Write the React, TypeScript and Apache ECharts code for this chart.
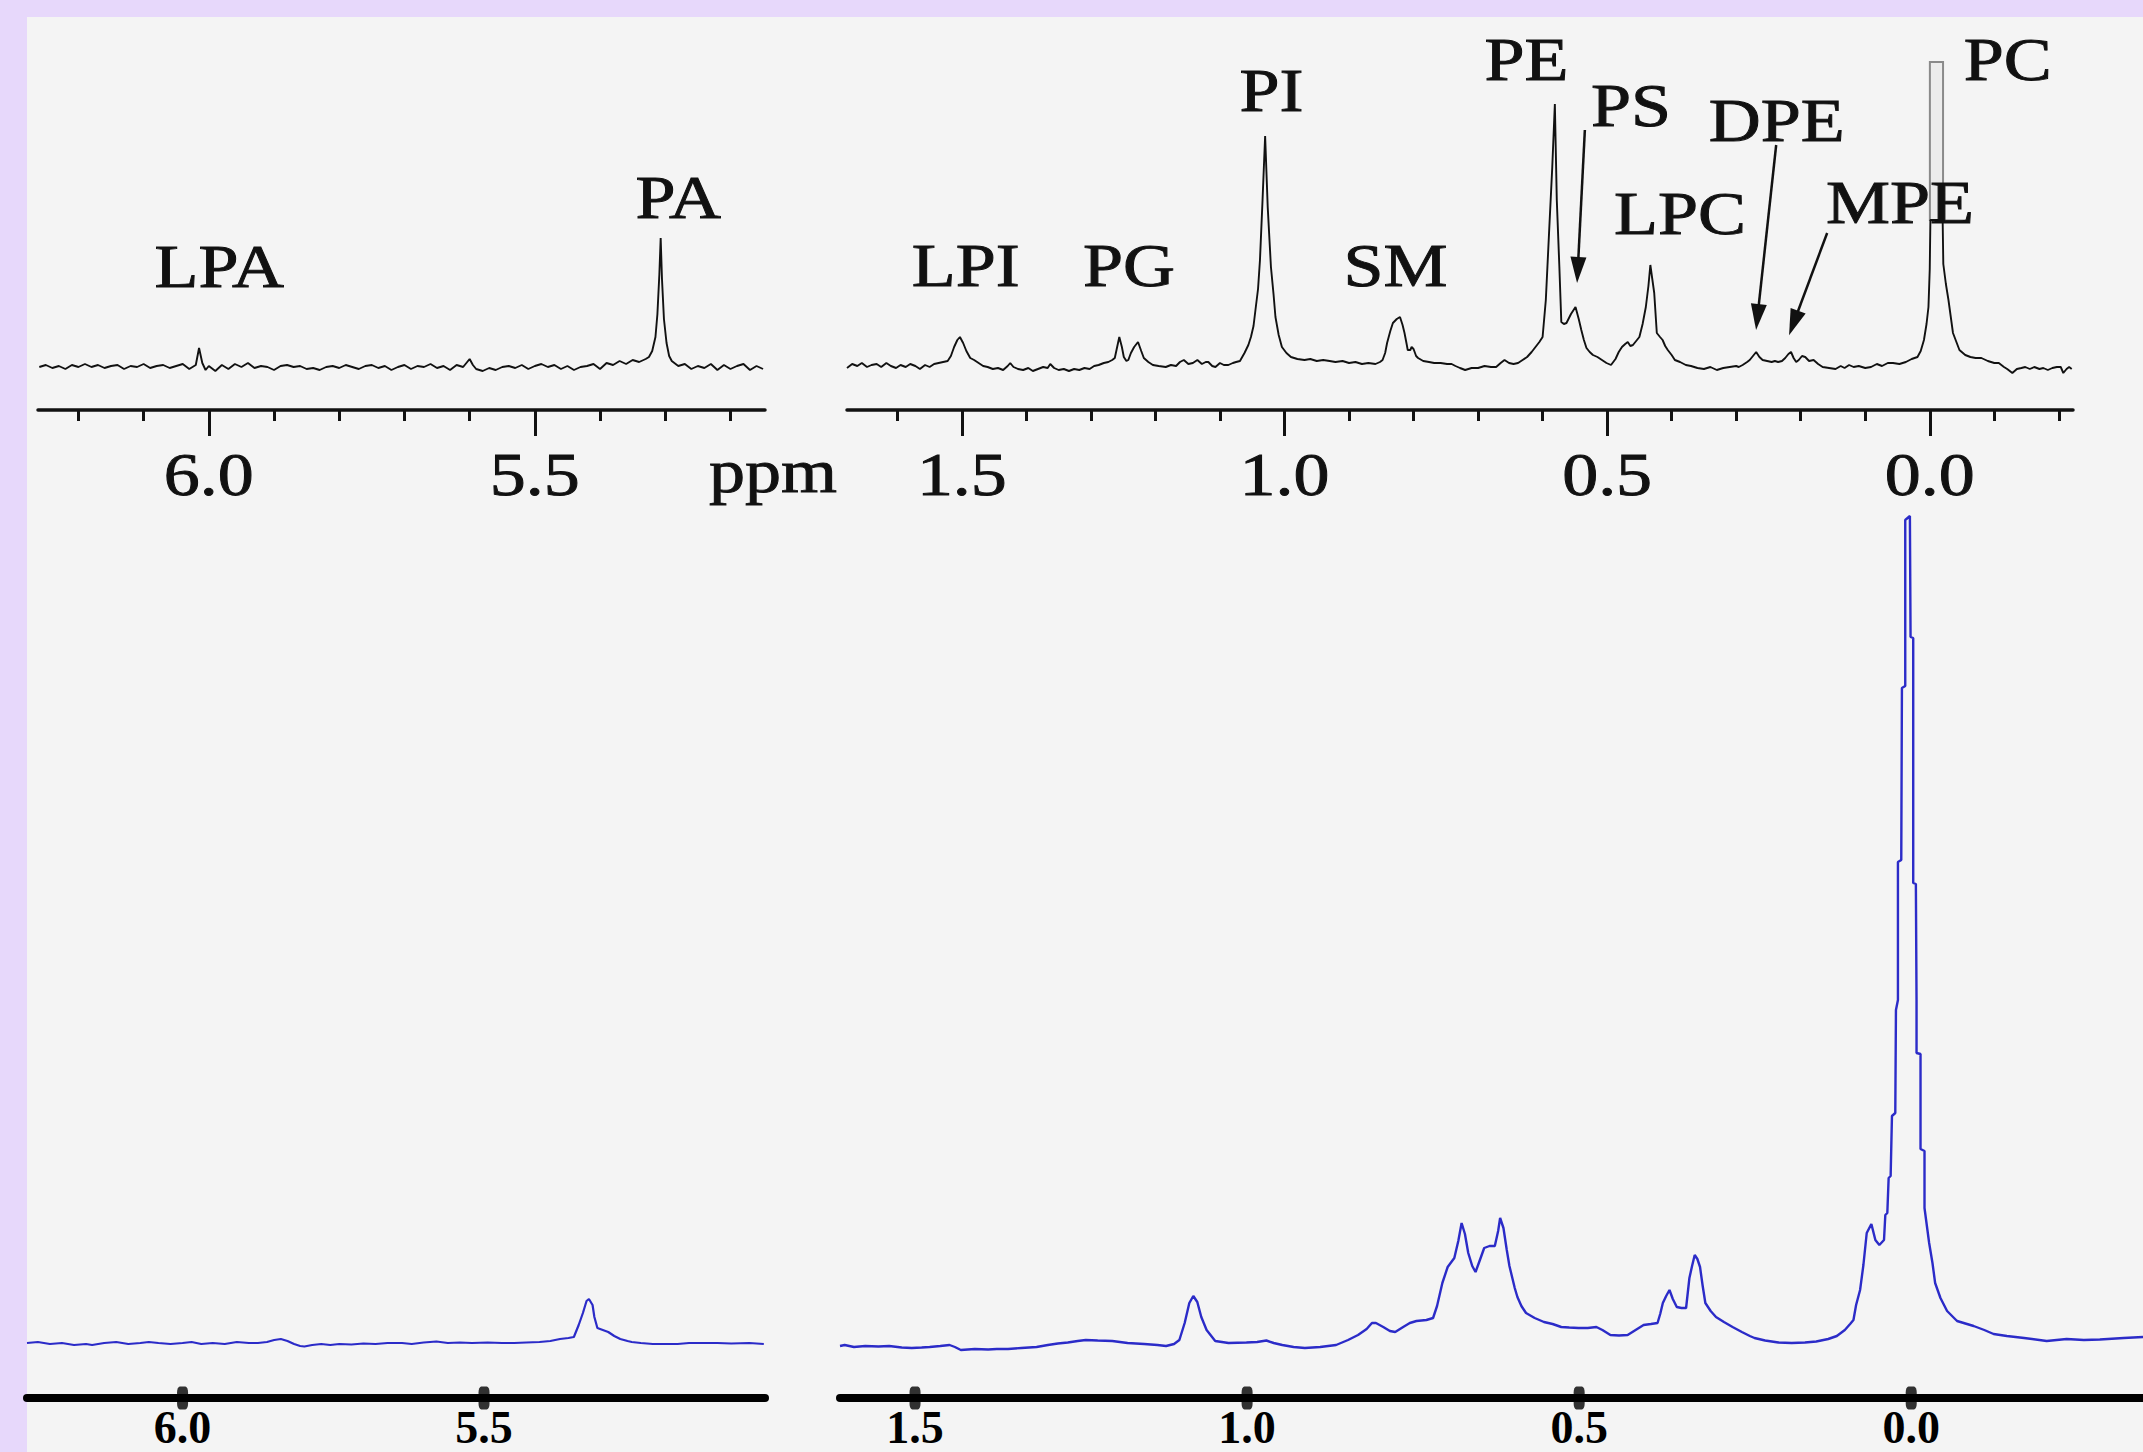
import React, { useEffect, useRef } from "react";
import * as echarts from "echarts";

// ---------- data (ppm, intensity) ----------
const TOP_LEFT_SPECTRUM: [number, number][] = [
  [6.26,4.2],[6.25,4.4],[6.24,4.1],[6.23,4.3],[6.22,4.0],[6.21,4.4],[6.20,4.2],[6.19,4.5],[6.18,4.2],[6.17,4.4],
  [6.16,4.1],[6.15,4.3],[6.14,4.4],[6.13,4.0],[6.12,4.3],[6.11,4.2],[6.10,4.5],[6.09,4.1],[6.08,4.3],[6.07,4.4],
  [6.06,4.1],[6.05,4.3],[6.04,4.5],[6.03,4.0],[6.02,4.4],[6.015,6.1],[6.01,4.6],[6.005,3.9],[6.00,4.3],[5.99,3.8],
  [5.98,4.4],[5.97,4.0],[5.96,4.5],[5.95,4.2],[5.94,4.6],[5.93,4.1],[5.92,4.3],[5.91,4.2],[5.90,3.9],[5.89,4.3],
  [5.88,4.4],[5.87,4.2],[5.86,4.3],[5.85,4.0],[5.84,4.1],[5.83,3.9],[5.82,4.2],[5.81,4.3],[5.80,4.1],[5.79,4.4],
  [5.78,4.2],[5.77,4.0],[5.76,4.3],[5.75,4.4],[5.74,4.1],[5.73,4.3],[5.72,3.9],[5.71,4.2],[5.70,4.4],[5.69,4.0],
  [5.68,4.3],[5.67,4.2],[5.66,4.5],[5.65,4.1],[5.64,4.3],[5.63,3.9],[5.62,4.4],[5.61,4.2],[5.60,5.0],[5.595,4.4],
  [5.59,4.0],[5.58,3.8],[5.57,4.1],[5.56,3.9],[5.55,4.2],[5.54,4.3],[5.53,4.1],[5.52,4.4],[5.51,4.0],[5.50,4.3],
  [5.49,4.5],[5.48,4.2],[5.47,4.4],[5.46,4.0],[5.45,4.3],[5.44,3.9],[5.43,4.2],[5.42,4.3],[5.41,4.5],[5.40,4.0],
  [5.39,4.6],[5.38,4.4],[5.37,4.8],[5.36,4.5],[5.35,4.9],[5.34,4.7],[5.33,5.0],[5.325,5.2],[5.32,5.8],[5.315,7.2],
  [5.312,9.5],[5.309,13.5],[5.307,17.1],[5.305,13.0],[5.302,9.0],[5.298,6.6],[5.294,5.3],[5.29,4.8],[5.28,4.3],[5.27,4.5],
  [5.26,4.0],[5.25,4.3],[5.24,4.1],[5.23,4.5],[5.22,3.9],[5.21,4.4],[5.20,4.0],[5.19,4.3],[5.18,4.5],[5.17,3.9],
  [5.16,4.3],[5.15,4.0]
];

const TOP_RIGHT_SPECTRUM: [number, number][] = [
  [1.678,4.1],[1.67,4.5],[1.662,4.3],[1.655,4.6],[1.647,4.2],[1.64,4.4],[1.632,4.5],[1.625,4.2],[1.617,4.6],[1.61,4.3],
  [1.602,4.1],[1.595,4.4],[1.587,4.2],[1.58,4.5],[1.572,4.3],[1.565,4.0],[1.557,4.4],[1.55,4.2],[1.543,4.5],[1.536,4.6],
  [1.529,4.7],[1.522,4.8],[1.517,5.3],[1.512,6.2],[1.507,6.9],[1.503,7.2],[1.498,6.6],[1.493,5.8],[1.487,5.1],[1.481,4.9],
  [1.474,4.6],[1.467,4.3],[1.46,4.2],[1.452,4.0],[1.444,4.1],[1.436,3.9],[1.429,4.3],[1.425,4.6],[1.42,4.2],[1.413,4.0],
  [1.405,3.9],[1.397,4.1],[1.39,3.8],[1.382,4.0],[1.374,4.2],[1.367,4.1],[1.363,4.5],[1.357,4.1],[1.35,3.9],[1.342,4.0],
  [1.334,3.8],[1.326,4.0],[1.318,3.9],[1.31,4.1],[1.302,4.0],[1.295,4.3],[1.288,4.4],[1.28,4.6],[1.273,4.7],[1.267,4.9],
  [1.263,5.1],[1.26,6.0],[1.256,7.2],[1.252,6.2],[1.249,5.2],[1.245,4.8],[1.242,4.9],[1.238,5.6],[1.233,6.2],[1.227,6.7],
  [1.222,5.8],[1.218,5.1],[1.211,4.7],[1.204,4.4],[1.195,4.3],[1.184,4.2],[1.176,4.4],[1.168,4.3],[1.162,4.7],[1.156,4.9],
  [1.149,4.5],[1.142,4.6],[1.135,4.9],[1.128,4.5],[1.122,4.7],[1.118,4.7],[1.112,4.3],[1.107,4.2],[1.1,4.6],[1.094,4.4],
  [1.087,4.4],[1.08,4.6],[1.075,4.7],[1.069,4.8],[1.062,5.6],[1.056,6.4],[1.052,7.2],[1.048,8.3],[1.045,9.9],[1.041,12.0],
  [1.038,14.9],[1.034,20.9],[1.03,27.3],[1.026,20.2],[1.021,14.2],[1.017,11.5],[1.014,9.2],[1.009,7.4],[1.004,6.2],[0.997,5.6],
  [0.99,5.2],[0.98,5.0],[0.969,4.9],[0.96,5.0],[0.95,4.8],[0.94,4.9],[0.93,4.8],[0.921,4.7],[0.91,4.8],[0.9,4.6],
  [0.89,4.7],[0.88,4.5],[0.87,4.6],[0.859,4.5],[0.852,4.7],[0.848,4.9],[0.844,5.6],[0.841,6.6],[0.836,7.8],[0.832,8.6],
  [0.826,9.0],[0.821,9.2],[0.817,8.4],[0.814,7.6],[0.811,6.6],[0.809,5.9],[0.805,5.9],[0.803,6.2],[0.8,6.0],[0.796,5.3],
  [0.793,5.1],[0.785,4.8],[0.776,4.7],[0.768,4.6],[0.758,4.6],[0.748,4.5],[0.741,4.5],[0.735,4.3],[0.728,4.1],[0.72,3.9],
  [0.71,4.1],[0.7,4.1],[0.69,4.3],[0.68,4.2],[0.672,4.2],[0.665,4.6],[0.659,4.9],[0.652,4.6],[0.645,4.5],[0.638,4.6],
  [0.631,4.9],[0.624,5.2],[0.617,5.7],[0.611,6.2],[0.605,6.7],[0.6,7.2],[0.595,10.9],[0.59,17.6],[0.585,24.2],[0.581,30.5],
  [0.578,20.9],[0.574,14.2],[0.571,8.7],[0.567,8.5],[0.563,8.6],[0.556,9.5],[0.549,10.2],[0.544,9.0],[0.54,7.9],[0.536,6.9],
  [0.532,6.1],[0.527,5.7],[0.522,5.4],[0.515,5.2],[0.508,4.9],[0.501,4.6],[0.494,4.4],[0.487,5.0],[0.482,5.7],[0.477,6.2],
  [0.472,6.5],[0.468,6.7],[0.464,6.3],[0.46,6.4],[0.455,6.8],[0.45,7.2],[0.445,8.5],[0.44,10.2],[0.436,12.3],[0.433,14.4],
  [0.43,13.0],[0.427,11.6],[0.423,7.6],[0.418,7.2],[0.414,6.9],[0.41,6.3],[0.406,5.9],[0.4,5.4],[0.395,4.9],[0.387,4.7],
  [0.378,4.4],[0.37,4.3],[0.36,4.1],[0.35,4.0],[0.34,4.2],[0.33,3.9],[0.32,4.1],[0.31,4.2],[0.3,4.3],[0.296,4.2],
  [0.29,4.4],[0.283,4.7],[0.279,4.9],[0.274,5.3],[0.269,5.7],[0.264,5.2],[0.259,4.9],[0.252,4.8],[0.245,4.7],[0.24,4.8],
  [0.235,4.7],[0.229,4.8],[0.224,5.1],[0.219,5.5],[0.215,5.7],[0.211,5.1],[0.207,4.7],[0.203,4.9],[0.198,5.3],[0.193,5.2],
  [0.187,4.8],[0.18,4.9],[0.173,4.5],[0.166,4.2],[0.156,4.1],[0.146,4.0],[0.138,4.3],[0.132,4.1],[0.125,4.4],[0.118,4.2],
  [0.11,4.3],[0.1,4.1],[0.091,4.2],[0.082,4.5],[0.074,4.3],[0.065,4.6],[0.057,4.6],[0.047,4.5],[0.037,4.7],[0.028,5.0],
  [0.019,5.2],[0.014,5.8],[0.009,6.9],[0.005,8.5],[0.002,10.2],[0.0,14.0],[-0.001,18.9],[-0.02,18.9],[-0.021,14.5],[-0.025,12.5],
  [-0.029,10.9],[-0.036,7.6],[-0.046,5.9],[-0.055,5.4],[-0.063,5.2],[-0.071,5.1],[-0.08,5.1],[-0.09,4.8],[-0.1,4.6],[-0.107,4.6],
  [-0.115,4.2],[-0.12,4.0],[-0.128,3.6],[-0.135,4.0],[-0.142,4.1],[-0.148,4.2],[-0.155,4.0],[-0.162,4.2],[-0.17,4.0],[-0.176,4.1],
  [-0.183,3.9],[-0.19,4.1],[-0.197,4.2],[-0.203,4.2],[-0.207,3.6],[-0.212,4.0],[-0.216,4.2],[-0.22,4.0]
];

const BOTTOM_LEFT_SPECTRUM: [number, number][] = [
  [6.258,5.3],[6.24,5.4],[6.22,5.2],[6.2,5.3],[6.18,5.1],[6.16,5.2],[6.15,5.1],[6.13,5.3],[6.11,5.4],[6.09,5.2],
  [6.07,5.3],[6.056,5.4],[6.04,5.3],[6.02,5.2],[6.0,5.3],[5.985,5.4],[5.969,5.2],[5.95,5.3],[5.93,5.2],[5.91,5.4],
  [5.89,5.3],[5.875,5.3],[5.86,5.4],[5.848,5.6],[5.837,5.7],[5.826,5.5],[5.815,5.2],[5.805,5.0],[5.798,4.95],[5.785,5.1],
  [5.77,5.2],[5.755,5.1],[5.74,5.2],[5.72,5.15],[5.7,5.25],[5.68,5.2],[5.66,5.3],[5.636,5.3],[5.62,5.2],[5.6,5.35],
  [5.579,5.45],[5.56,5.3],[5.54,5.35],[5.52,5.3],[5.494,5.35],[5.47,5.3],[5.45,5.3],[5.43,5.35],[5.408,5.4],[5.39,5.5],
  [5.374,5.7],[5.36,5.8],[5.351,5.9],[5.343,7.1],[5.336,8.3],[5.33,9.5],[5.326,9.7],[5.32,9.1],[5.317,7.9],[5.312,6.8],
  [5.303,6.6],[5.294,6.4],[5.284,6.0],[5.274,5.7],[5.262,5.5],[5.255,5.4],[5.24,5.3],[5.22,5.2],[5.2,5.2],[5.179,5.2],
  [5.16,5.3],[5.14,5.3],[5.113,5.3],[5.09,5.25],[5.06,5.3],[5.036,5.2]
];

const BOTTOM_RIGHT_SPECTRUM: [number, number][] = [
  [1.613,5.0],[1.606,5.1],[1.592,4.9],[1.575,5.0],[1.555,4.95],[1.539,5.0],[1.52,4.85],[1.505,4.8],[1.49,4.85],[1.478,4.9],
  [1.462,5.0],[1.448,5.1],[1.44,4.9],[1.431,4.6],[1.41,4.7],[1.39,4.65],[1.377,4.7],[1.36,4.7],[1.34,4.8],[1.317,4.9],
  [1.3,5.1],[1.285,5.25],[1.27,5.35],[1.255,5.5],[1.243,5.6],[1.225,5.55],[1.203,5.5],[1.18,5.3],[1.155,5.2],[1.135,5.1],
  [1.122,5.0],[1.11,5.2],[1.102,5.6],[1.094,7.3],[1.087,9.3],[1.081,10.0],[1.075,9.4],[1.069,7.9],[1.061,6.6],[1.048,5.5],
  [1.028,5.3],[1.001,5.35],[0.985,5.4],[0.971,5.55],[0.96,5.3],[0.947,5.1],[0.93,4.9],[0.913,4.8],[0.89,4.9],[0.866,5.1],
  [0.848,5.6],[0.833,6.1],[0.82,6.7],[0.812,7.3],[0.806,7.3],[0.795,6.9],[0.785,6.5],[0.777,6.4],[0.765,6.9],[0.755,7.3],
  [0.745,7.5],[0.73,7.6],[0.72,7.8],[0.714,9.0],[0.706,11.3],[0.698,12.9],[0.688,13.8],[0.682,15.5],[0.677,17.3],[0.672,16.2],
  [0.667,14.3],[0.661,13.0],[0.656,12.4],[0.65,13.5],[0.643,14.8],[0.635,15.0],[0.627,15.0],[0.622,16.5],[0.619,17.8],[0.614,16.8],
  [0.609,14.6],[0.605,13.0],[0.601,11.9],[0.597,10.8],[0.593,9.9],[0.587,9.0],[0.58,8.3],[0.567,7.8],[0.553,7.4],[0.54,7.2],
  [0.527,6.9],[0.515,6.85],[0.501,6.8],[0.487,6.8],[0.474,6.9],[0.465,6.6],[0.453,6.1],[0.44,6.05],[0.427,6.1],[0.415,6.6],
  [0.403,7.1],[0.392,7.2],[0.382,7.3],[0.378,8.2],[0.374,9.3],[0.369,10.0],[0.364,10.6],[0.359,9.7],[0.353,8.9],[0.346,8.8],
  [0.339,8.8],[0.334,11.8],[0.33,13.0],[0.326,14.1],[0.322,13.7],[0.318,12.9],[0.314,11.0],[0.31,9.3],[0.302,8.5],[0.294,7.9],
  [0.282,7.4],[0.269,6.9],[0.255,6.4],[0.243,6.0],[0.236,5.8],[0.22,5.55],[0.2,5.35],[0.18,5.3],[0.16,5.35],[0.143,5.45],
  [0.125,5.7],[0.112,6.0],[0.1,6.6],[0.092,7.2],[0.087,7.6],[0.083,9.1],[0.077,10.6],[0.072,13.1],[0.067,16.3],[0.06,17.2],
  [0.054,15.6],[0.048,15.1],[0.041,15.6],[0.039,18.1],[0.036,18.3],[0.034,21.8],[0.031,22.0],[0.029,28.0],[0.024,28.3],[0.023,38.6],
  [0.02,39.6],[0.02,53.4],[0.015,53.6],[0.014,70.8],[0.009,71.0],[0.009,87.6],[0.002,88.0],[0.001,75.9],[-0.003,75.8],[-0.003,51.3],
  [-0.007,51.2],[-0.008,39.6],[-0.008,34.3],[-0.014,34.2],[-0.014,24.7],[-0.02,24.5],[-0.02,18.8],[-0.027,15.3],[-0.032,13.3],[-0.036,11.3],
  [-0.044,9.8],[-0.054,8.5],[-0.069,7.5],[-0.094,7.0],[-0.11,6.6],[-0.124,6.2],[-0.144,6.0],[-0.17,5.8],[-0.204,5.5],[-0.234,5.7],
  [-0.26,5.6],[-0.284,5.65],[-0.32,5.8],[-0.349,5.9]
];

// axis ticks (ppm)
const TOP_LEFT_MINOR_TICKS = [6.2, 6.1, 5.9, 5.8, 5.7, 5.6, 5.4, 5.3, 5.2];
const TOP_LEFT_MAJOR_TICKS = [6.0, 5.5];
const TOP_RIGHT_MINOR_TICKS = [1.6, 1.4, 1.3, 1.2, 1.1, 0.9, 0.8, 0.7, 0.6, 0.4, 0.3, 0.2, 0.1, -0.1, -0.2];
const TOP_RIGHT_MAJOR_TICKS = [1.5, 1.0, 0.5, 0.0];
const BOTTOM_LEFT_TICKS = [6.0, 5.5];
const BOTTOM_RIGHT_TICKS = [1.5, 1.0, 0.5, 0.0];

// peak annotations: panel 0 = top-left, 1 = top-right
const PEAK_LABELS = [
  { text: "LPA", panel: 0, ppm: 5.984, y: 14.25 },
  { text: "PA", panel: 0, ppm: 5.28, y: 21.2 },
  { text: "LPI", panel: 1, ppm: 1.494, y: 14.4 },
  { text: "PG", panel: 1, ppm: 1.241, y: 14.4 },
  { text: "PI", panel: 1, ppm: 1.02, y: 31.9 },
  { text: "SM", panel: 1, ppm: 0.828, y: 14.4 },
  { text: "PE", panel: 1, ppm: 0.625, y: 35.0 },
  { text: "PS", panel: 1, ppm: 0.463, y: 30.4 },
  { text: "DPE", panel: 1, ppm: 0.237, y: 28.9 },
  { text: "LPC", panel: 1, ppm: 0.387, y: 19.6 },
  { text: "MPE", panel: 1, ppm: 0.046, y: 20.7 },
  { text: "PC", panel: 1, ppm: -0.121, y: 35.0 }
];
const ARROWS = [
  { from: [0.5345, 27.9], to: [0.5455, 13.9] },
  { from: [0.238, 26.4], to: [0.267, 9.2] },
  { from: [0.159, 17.6], to: [0.211, 8.6] }
];
const PC_CLIPPED_BAR = { ppmFrom: -0.0002, ppmTo: -0.0206, yFrom: 18.9, yTo: 34.7 };

const SERIF = "'Liberation Serif', 'Times New Roman', serif";
const INK = "#111111";
const BLUE = "#2b2bc8";

function topAxis(gridIndex: number, min: number, max: number, ticks: number[], len: number, showLine: boolean) {
  return {
    type: "value", gridIndex, min, max, inverse: true, position: "bottom",
    axisLine: { show: showLine, onZero: false, lineStyle: { color: INK, width: 3.5 } },
    axisTick: { show: true, customValues: ticks, length: len, inside: false, lineStyle: { color: INK, width: 3 } },
    axisLabel: { show: false },
    splitLine: { show: false }
  };
}

function bottomAxis(gridIndex: number, min: number, max: number, labels: number[]) {
  return {
    type: "value", gridIndex, min, max, inverse: true, position: "bottom",
    axisLine: { show: true, onZero: false, lineStyle: { color: "#000", width: 8 } },
    axisTick: { show: false },
    axisLabel: {
      show: true, customValues: labels, formatter: (v: number) => v.toFixed(1),
      margin: 29, verticalAlign: "middle", fontSize: 46, lineHeight: 34, fontWeight: "bold",
      fontFamily: SERIF, color: "#000"
    },
    splitLine: { show: false }
  };
}

export default function App() {
  const ref = useRef<HTMLDivElement>(null);
  useEffect(() => {
    if (!ref.current) return;
    const chart = echarts.init(ref.current, undefined, { renderer: "svg" });
    const option: any = {
      animation: false,
      backgroundColor: "transparent",
      grid: [
        { left: 38, top: 49, width: 727, height: 361 },
        { left: 847, top: 49, width: 1226, height: 361 },
        { left: 27, top: 496, width: 738, height: 902 },
        { left: 840, top: 496, width: 1303, height: 902 }
      ],
      xAxis: [
        topAxis(0, 5.147, 6.262, TOP_LEFT_MINOR_TICKS, 11, true),
        topAxis(0, 5.147, 6.262, TOP_LEFT_MAJOR_TICKS, 26, false),
        topAxis(1, -0.222, 1.678, TOP_RIGHT_MINOR_TICKS, 11, true),
        topAxis(1, -0.222, 1.678, TOP_RIGHT_MAJOR_TICKS, 26, false),
        bottomAxis(2, 5.034, 6.258, BOTTOM_LEFT_TICKS),
        bottomAxis(3, -0.349, 1.613, BOTTOM_RIGHT_TICKS)
      ],
      yAxis: [
        { type: "value", gridIndex: 0, min: -0.1, max: 36, show: false },
        { type: "value", gridIndex: 1, min: -0.1, max: 36, show: false },
        { type: "value", gridIndex: 2, min: -0.2, max: 90, show: false },
        { type: "value", gridIndex: 3, min: -0.2, max: 90, show: false }
      ],
      series: [
        {
          type: "line", xAxisIndex: 0, yAxisIndex: 0, data: TOP_LEFT_SPECTRUM,
          showSymbol: false, symbol: "none", lineStyle: { color: INK, width: 1.9 }
        },
        {
          type: "line", xAxisIndex: 2, yAxisIndex: 1, data: TOP_RIGHT_SPECTRUM,
          showSymbol: false, symbol: "none", lineStyle: { color: INK, width: 1.9 },
          markArea: {
            silent: true,
            itemStyle: { color: "#ececec", borderColor: "#8a8a8a", borderWidth: 2 },
            data: [[
              { coord: [PC_CLIPPED_BAR.ppmFrom, PC_CLIPPED_BAR.yFrom] },
              { coord: [PC_CLIPPED_BAR.ppmTo, PC_CLIPPED_BAR.yTo] }
            ]]
          },
          markLine: {
            silent: true, animation: false,
            symbol: ["none", "triangle"], symbolSize: [16, 26],
            lineStyle: { color: INK, width: 2.5, type: "solid" },
            label: { show: false },
            data: ARROWS.map((a) => [{ coord: a.from }, { coord: a.to }])
          }
        },
        {
          type: "line", xAxisIndex: 4, yAxisIndex: 2, data: BOTTOM_LEFT_SPECTRUM,
          showSymbol: false, symbol: "none", lineStyle: { color: BLUE, width: 2.2 }
        },
        {
          type: "line", xAxisIndex: 5, yAxisIndex: 3, data: BOTTOM_RIGHT_SPECTRUM,
          showSymbol: false, symbol: "none", lineStyle: { color: BLUE, width: 2.4 }
        },
        {
          type: "scatter", xAxisIndex: 4, yAxisIndex: 2, clip: false, z: 5,
          data: BOTTOM_LEFT_TICKS.map((v) => [v, -0.2]),
          symbol: "roundRect", symbolSize: [11, 23], itemStyle: { color: "#000" }
        },
        {
          type: "scatter", xAxisIndex: 5, yAxisIndex: 3, clip: false, z: 5,
          data: BOTTOM_RIGHT_TICKS.map((v) => [v, -0.2]),
          symbol: "roundRect", symbolSize: [11, 23], itemStyle: { color: "#000" }
        }
      ]
    };
    chart.setOption(option);

    const textEl = (text: string, x: number, y: number) => ({
      type: "text", x, y, scaleX: 1.18, z: 20,
      style: {
        text, fill: INK, stroke: INK, lineWidth: 0.9, fontSize: 61, fontFamily: SERIF,
        align: "center", verticalAlign: "middle",
        textAlign: "center", textVerticalAlign: "middle"
      }
    });
    const graphics: any[] = [];
    PEAK_LABELS.forEach((l) => {
      const p = chart.convertToPixel({ seriesIndex: l.panel }, [l.ppm, l.y]) as number[];
      graphics.push(textEl(l.text, p[0], p[1]));
    });
    const tickLabel = (seriesIndex: number, ticks: number[]) => {
      ticks.forEach((t) => {
        const p = chart.convertToPixel({ seriesIndex }, [t, -0.1]) as number[];
        graphics.push(textEl(t.toFixed(1), p[0], p[1] + 64));
      });
    };
    tickLabel(0, TOP_LEFT_MAJOR_TICKS);
    tickLabel(1, TOP_RIGHT_MAJOR_TICKS);
    graphics.push(textEl("ppm", 773, 471));
    chart.setOption({ graphic: graphics });

    return () => chart.dispose();
  }, []);

  return (
    <div style={{ position: "fixed", left: 0, top: 0, width: 2143, height: 1452, background: "#e7d8fb", overflow: "hidden" }}>
      <div style={{ position: "absolute", left: 27, top: 17, right: 0, bottom: 0, background: "#f4f4f4" }} />
      <div ref={ref} style={{ position: "absolute", left: 0, top: 0, width: 2143, height: 1452 }} />
    </div>
  );
}
